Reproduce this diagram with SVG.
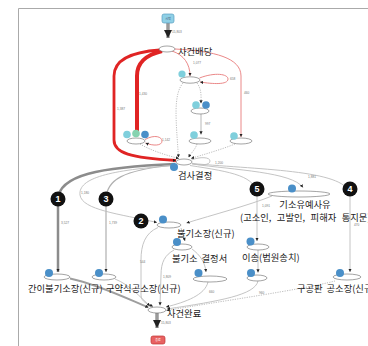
<svg xmlns="http://www.w3.org/2000/svg" width="368" height="346" viewBox="0 0 368 346">
<style>
.lb{font-family:"Noto Sans CJK KR","Noto Sans",sans-serif;font-size:9.3px;fill:#222;word-spacing:1.8px}
.el{font-family:"Liberation Sans",Arial,sans-serif;font-size:3.2px;fill:#777}
.nd{fill:#fff;stroke:#666;stroke-width:0.6}
.tl{fill:#7fcfdc}.bl{fill:#4a8fc8}.gr{fill:#86d3b0}
.g1{fill:none;stroke:#bdbdbd;stroke-width:0.9;marker-end:url(#ah)}
.gd{fill:none;stroke:#a0a0a0;stroke-width:0.7;stroke-dasharray:1.2 1.2;marker-end:url(#ah)}
.rd{fill:none;stroke:#e02424;marker-end:url(#ah)}
.rl{fill:none;stroke:#e87a7a;stroke-width:0.9;marker-end:url(#ah)}
.mk circle{fill:#111}
.mk text{font-family:"Liberation Sans",Arial,sans-serif;font-weight:bold;font-size:9px;fill:#fff;text-anchor:middle}
</style>
<defs>
<marker id="ah" viewBox="0 0 10 10" refX="10" refY="5" markerWidth="3.2" markerHeight="3.2" markerUnits="userSpaceOnUse" orient="auto"><path d="M0,0 L10,5 L0,10 z" fill="#222"/></marker>
<marker id="big" viewBox="0 0 10 10" refX="10" refY="5" markerWidth="8" markerHeight="8" markerUnits="userSpaceOnUse" orient="auto"><path d="M0,0 L10,5 L0,10 z" fill="#222"/></marker>
</defs>
<rect width="368" height="346" fill="#fff"/>
<path d="M18.5,346 V8.5 H368" fill="none" stroke="#aaa" stroke-width="1"/>

<g id="connectors">
<path d="M168,23 V38" stroke="#9a9a9a" stroke-width="3.5" fill="none" marker-end="url(#big)"/>
<path d="M157,313 V328" stroke="#9a9a9a" stroke-width="3.5" fill="none" marker-end="url(#big)"/>
<path class="rd" stroke-width="4" d="M162,51 C146,55 137,62 137,76 L137,136"/>
<path class="rd" stroke-width="2.8" d="M160,50 C130,52 114,60 114,76 L114,140 C114,153 130,158 176,160.5"/>
<path class="rl" d="M172,51 C184,55 190,64 190,76"/>
<path class="rl" d="M175,49 C215,51 241,58 241,76 L241,137"/>
<path class="rl" d="M199.5,78 C215,72 228,74 228,79 C228,85 213,84 200,82"/>
<path class="rl" d="M145,139.5 C155,134 162,137 162,141 C162,146 153,146 145.5,143"/>
<path class="gd" d="M183,83 C173,95 176,120 178.5,157.5"/>
<path class="gd" d="M197,83 C202,90 201,97 201,103.5"/>
<path d="M201,114 L201,134.5" fill="none" stroke="#999" stroke-width="0.7" marker-end="url(#ah)"/>
<path class="gd" d="M140,144 C150,150 165,155 179,158.5"/>
<path class="gd" d="M197,144 C195,150 191,153 188.5,157.5"/>
<path class="gd" d="M235,144 C220,150 202,155 191,158.5"/>
<path d="M191.5,160 C200,156.5 210,157 210,161 C210,165.5 200,165.5 192,163.5" fill="none" stroke="#aaa" stroke-width="0.7"/>
<path d="M175,164 C100,167 58,175 58,200 L58,272" fill="none" stroke="#8c8c8c" stroke-width="2.5" marker-end="url(#ah)"/>
<path d="M175,165 C122,170 106,180 106,200 L106,272" fill="none" stroke="#b0b0b0" stroke-width="1.2" marker-end="url(#ah)"/>
<path class="g1" d="M175,165.5 C110,170 78,178 80,195 C82,210 120,214 157,222.5"/>
<path class="g1" d="M192,164 C235,170 292,172 303,187.5"/>
<path class="g1" d="M192,163.5 C265,170 350,170 350,196 L350,272"/>
<path class="g1" d="M190,165.5 C232,172 257,176 257,196 L257,241"/>
<path class="g1" d="M272,196 C250,205 212,215 186.5,223"/>
<path class="g1" d="M181,228 L185,241"/>
<path class="g1" d="M192,249 C200,255 205,262 206,272"/>
<path class="g1" d="M258,250 L258,272.5"/>
<path class="g1" d="M158,227.5 C145,233 141,245 141,260 L141,295 C141,302 148,304 153,306.5"/>
<path class="g1" d="M174,250 C165,255 161,262 161,275 L160,305.5"/>
<path class="g1" d="M208,282 C205,295 186,302 166,307"/>
<path class="g1" d="M258,281 C255,295 220,301 167,309"/>
<path class="gd" d="M335,281 C300,290 222,301 166.5,310.5"/>
<path d="M70,278.5 C100,285 130,300 148.5,307.5" fill="none" stroke="#9e9e9e" stroke-width="1.8" marker-end="url(#ah)"/>
<path class="g1" d="M115,279 C130,285 140,297 150,306"/>
<text class="el" x="172" y="33">15,803</text>
<text class="el" x="193" y="64">1,077</text>
<text class="el" x="230" y="80">658</text>
<text class="el" x="244" y="94">460</text>
<text class="el" x="139" y="95">1,430</text>
<text class="el" x="117" y="110">1,387</text>
<text class="el" x="205" y="125">997</text>
<text class="el" x="162" y="141">1,142</text>
<text class="el" x="215" y="164">1,200</text>
<text class="el" x="81" y="194">1,180</text>
<text class="el" x="61" y="224">3,527</text>
<text class="el" x="109" y="224">1,739</text>
<text class="el" x="308" y="178">1,881</text>
<text class="el" x="262" y="206.5">1,091</text>
<text class="el" x="354" y="226">470</text>
<text class="el" x="140" y="263">544</text>
<text class="el" x="163" y="278">1,809</text>
<text class="el" x="209" y="293">660</text>
<text class="el" x="259" y="294">960</text>
<text class="el" x="161" y="324">15,803</text>
</g>

<g id="start"><rect x="162" y="14" width="12" height="9" rx="2" fill="#8fd0e6" stroke="#5a9fc0" stroke-width="0.7"/><text x="168" y="19.8" font-family="Noto Sans CJK KR,sans-serif" font-size="3" fill="#335" text-anchor="middle">시작</text></g>
<g id="end"><rect x="151" y="336" width="14" height="8" rx="2" fill="#e86262" stroke="#c03434" stroke-width="0.7"/><text x="158" y="341.3" font-family="Noto Sans CJK KR,sans-serif" font-size="3" fill="#fff" text-anchor="middle">종료</text></g>

<g id="n-assign"><ellipse class="nd" cx="167" cy="49" rx="8" ry="3"/><text class="lb" x="178" y="55">사건배당</text></g>
<g id="n-a"><ellipse class="nd" cx="190" cy="80" rx="10" ry="3.2"/><circle class="tl" cx="182" cy="74" r="3.6"/></g>
<g id="n-c"><ellipse class="nd" cx="200" cy="111" rx="9" ry="3"/><circle class="tl" cx="196" cy="105" r="3.8"/><circle class="bl" cx="206" cy="105" r="3.8"/></g>
<g id="n-b"><ellipse class="nd" cx="136" cy="141" rx="9" ry="3"/><circle class="tl" cx="127" cy="134.5" r="3.8"/><circle class="gr" cx="136" cy="133.5" r="3.8"/><circle class="bl" cx="145" cy="134.5" r="3.8"/></g>
<g id="n-d"><ellipse class="nd" cx="200" cy="141" rx="11" ry="3"/><circle class="tl" cx="194" cy="135" r="3.8"/></g>
<g id="n-e"><ellipse class="nd" cx="241" cy="141" rx="11" ry="3"/><circle class="tl" cx="234" cy="136" r="3.8"/></g>
<g id="n-decide"><ellipse class="nd" cx="184" cy="162" rx="8" ry="3"/><circle class="bl" cx="174" cy="167" r="4"/><text class="lb" x="178" y="178.5">검사결정</text></g>
<g id="n-nonpros"><ellipse class="nd" cx="169" cy="225" rx="12" ry="3"/><circle class="bl" cx="163" cy="219.5" r="4"/><text class="lb" x="177" y="237">불기소장(신규)</text></g>
<g id="n-decision"><ellipse class="nd" cx="182" cy="247" rx="10" ry="3"/><circle class="bl" cx="177" cy="242" r="4"/><text class="lb" x="172" y="262">불기소 결정서</text></g>
<g id="n-suspend"><ellipse class="nd" cx="299" cy="194" rx="31" ry="3"/><circle class="bl" cx="292" cy="188.5" r="4"/><text class="lb" x="305" y="207.5" text-anchor="middle">기소유예사유</text><text class="lb" x="240" y="221" style="word-spacing:3.4px">(고소인, 고발인, 피해자 통지문)</text></g>
<g id="n-transfer"><ellipse class="nd" cx="258" cy="247" rx="11" ry="3"/><circle class="bl" cx="250.5" cy="241.5" r="4"/><text class="lb" x="242" y="261">이송(법원송치)</text></g>
<g id="n-simple"><ellipse class="nd" cx="57" cy="277" rx="13" ry="3"/><circle class="bl" cx="49" cy="273" r="4"/><text class="lb" x="28" y="292">간이불기소장(신규)</text></g>
<g id="n-summary"><ellipse class="nd" cx="104" cy="277" rx="12" ry="3"/><circle class="bl" cx="99" cy="273" r="4"/><text class="lb" x="106" y="292">구약식공소장(신규)</text></g>
<g id="n-m"><ellipse class="nd" cx="210" cy="279" rx="17" ry="3"/><circle class="bl" cx="198.5" cy="273" r="4"/></g>
<g id="n-n"><ellipse class="nd" cx="257" cy="278" rx="10" ry="3"/><circle class="bl" cx="251" cy="273" r="4"/></g>
<g id="n-indict"><ellipse class="nd" cx="347" cy="277" rx="14" ry="3"/><circle class="bl" cx="340" cy="273" r="4"/><text class="lb" x="297" y="292">구공판 공소장(신규)</text></g>
<g id="n-done"><ellipse class="nd" cx="157" cy="310" rx="9" ry="3"/><text class="lb" x="167" y="316.5">사건완료</text></g>

<g id="markers" class="mk">
<circle cx="58" cy="199" r="7.5"/><text x="58" y="202.3">1</text>
<circle cx="141" cy="221" r="7.5"/><text x="141" y="224.3">2</text>
<circle cx="106" cy="199" r="7.5"/><text x="106" y="202.3">3</text>
<circle cx="350" cy="189" r="7.5"/><text x="350" y="192.3">4</text>
<circle cx="257" cy="189" r="7.5"/><text x="257" y="192.3">5</text>
</g>
</svg>
